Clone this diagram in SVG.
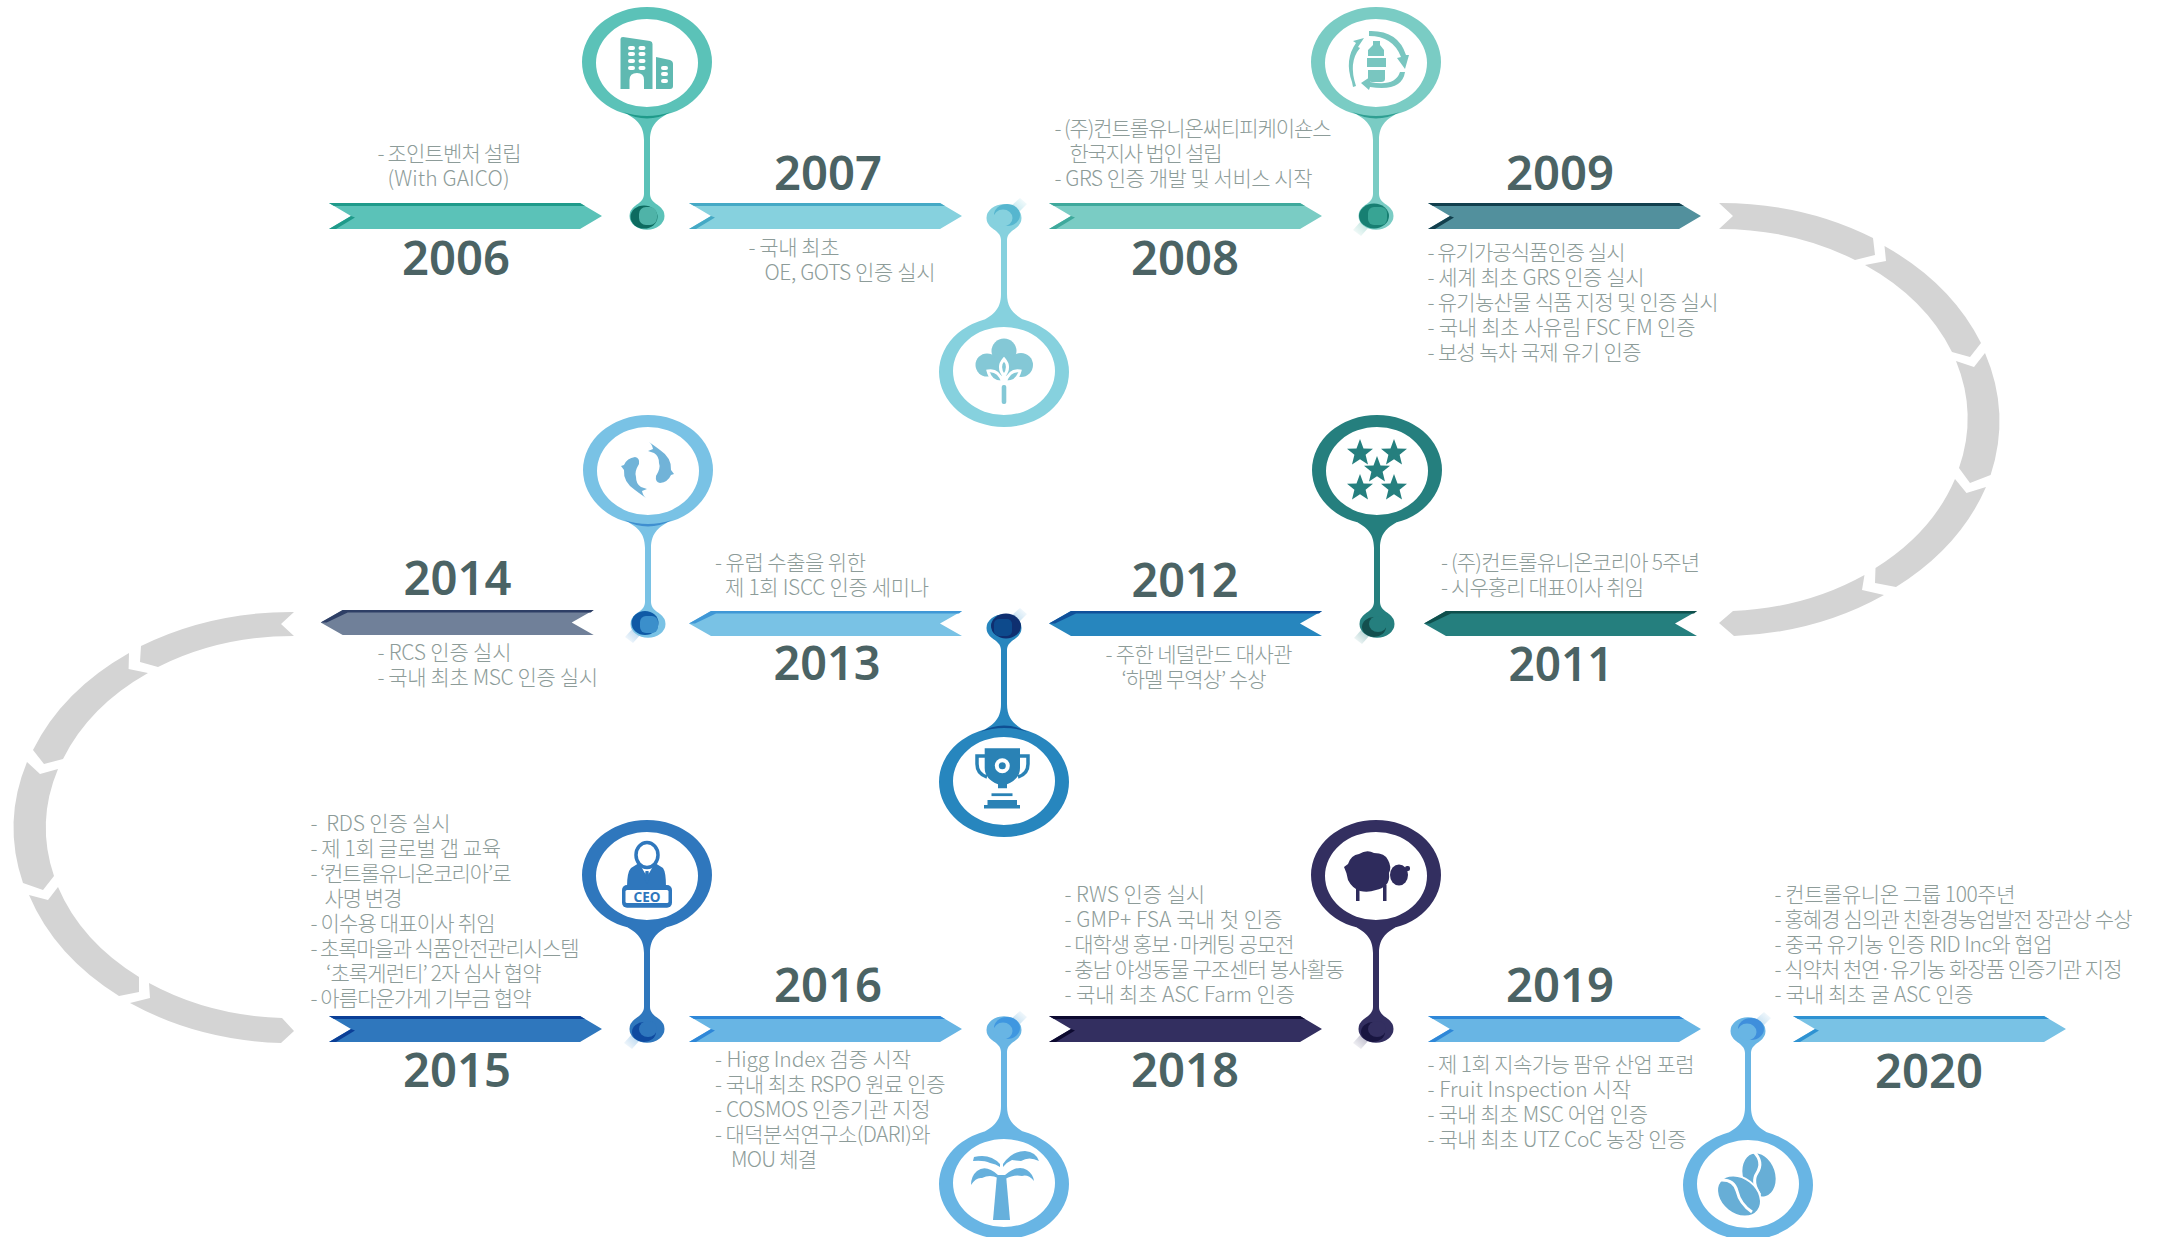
<svg xmlns="http://www.w3.org/2000/svg" xmlns:xlink="http://www.w3.org/1999/xlink" width="2157" height="1237" viewBox="0 0 2157 1237">
<style>
.t{font-family:"Noto Sans CJK KR","Noto Sans",sans-serif;font-size:21px;font-weight:300;fill:#8d9c99;white-space:pre;transform:translate(-.5px,-1px)}
#y2018 .t,#y2020 .t{transform:translate(-.5px,-2px)}
.y{font-family:"Noto Sans","Liberation Sans",sans-serif;font-size:46px;font-weight:600;fill:#4b6364;text-anchor:middle;transform:translateY(1px)}
.arc{fill:#d4d4d4}
.w{fill:#fff}
</style>
<defs>
<path id="pin" d="M-65,0A65,55 0 1 1 65,0A65,55 0 1 1 -65,0ZM-51,1A51,44 0 1 0 51,1A51,44 0 1 0 -51,1ZM24,50C12,56 3,62 3,78L3,132C3,138 8,141 12,144L-12,144C-8,141 -3,138 -3,132L-3,78C-3,62 -12,56 -24,50ZM-17.5,154A17.5,13.7 0 1 1 17.5,154A17.5,13.7 0 1 1 -17.5,154Z"/>
<path id="shade" d="M-24,50Q0,58 24,50Q0,63 -24,50Z"/>
<path id="ar" d="M0,0H251L273,13L251,26H0L22,13Z"/>
<path id="ard" d="M0,0H251L256,3H5ZM0,26L22,13L26,14.5L7,26Z"/>
<path id="al" d="M0,12.5L22,0H273L251,12.5L273,25H22Z"/>
<path id="ald" d="M0,12.5L22,0H273L270,2.5H27L6,12.5Z"/>
<polygon id="star" points="0,-14 3.5,-4.6 13,-4.2 5.6,1.8 8,11.5 0,6.2 -8,11.5 -5.6,1.8 -13,-4.2 -3.5,-4.6"/>
<linearGradient id="s1" x1="0" y1="1" x2="1" y2="0"><stop offset="0" stop-color="#86d1de" stop-opacity=".75"/><stop offset="1" stop-color="#86d1de" stop-opacity="0"/></linearGradient>
<linearGradient id="s2" x1="1" y1="0" x2="0" y2="1"><stop offset="0" stop-color="#5fbdaf" stop-opacity=".6"/><stop offset="1" stop-color="#5fbdaf" stop-opacity="0"/></linearGradient>
<linearGradient id="s3" x1="1" y1="0" x2="0" y2="1"><stop offset="0" stop-color="#257f7e" stop-opacity=".55"/><stop offset="1" stop-color="#257f7e" stop-opacity="0"/></linearGradient>
<linearGradient id="s4" x1="0" y1="1" x2="1" y2="0"><stop offset="0" stop-color="#79b8e0" stop-opacity=".7"/><stop offset="1" stop-color="#79b8e0" stop-opacity="0"/></linearGradient>
<linearGradient id="s5" x1="1" y1="0" x2="0" y2="1"><stop offset="0" stop-color="#68a8dc" stop-opacity=".7"/><stop offset="1" stop-color="#68a8dc" stop-opacity="0"/></linearGradient>
<linearGradient id="s6" x1="1" y1="0" x2="0" y2="1"><stop offset="0" stop-color="#332f60" stop-opacity=".5"/><stop offset="1" stop-color="#332f60" stop-opacity="0"/></linearGradient>
<path id="smU" d="M7,-11L14,-4L23,-13L16,-19Z" opacity=".8"/>
<path id="smD" d="M-7,11L-14,4L-23,14L-15,20Z" opacity=".8"/>
</defs>

<g id="connectors">
<path class="arc" d="M1719,203L1733,216L1719,229A248,191 0 0 1 1855,260L1875,255L1873,238A280,217 0 0 0 1719,203Z"/>
<path class="arc" d="M1884.5,246L1886,261L1865,265A248,191 0 0 1 1952,352L1970,357L1981,343A280,217 0 0 0 1884.5,246Z"/>
<path class="arc" d="M1985,353L1974,367L1956,361A248,191 0 0 1 1959,468L1970,483L1990.6,475A280,217 0 0 0 1985,353Z"/>
<path class="arc" d="M1986,487L1966.5,493L1955,479A248,191 0 0 1 1875.5,568L1875,583L1896,587A280,217 0 0 0 1986,487Z"/>
<path class="arc" d="M1864.5,575L1862,590L1884,595A280,217 0 0 1 1734,636L1719,623L1733,611A248,191 0 0 0 1864.5,575Z"/>
<path class="arc" d="M294,612L281,624L294,636A248,191 0 0 0 158,667L140,662L141,646A280,216 0 0 1 294,612Z"/>
<path class="arc" d="M129,653L128.6,669L148,673A248,191 0 0 0 63,759L44,764L33,750A280,216 0 0 1 129,653Z"/>
<path class="arc" d="M27,762L40,774L58,769A248,191 0 0 0 54,876L43,890L23,883A280,216 0 0 1 27,762Z"/>
<path class="arc" d="M29,895L48,900L58,887A248,191 0 0 0 139,977L139,992L119,996A280,216 0 0 1 29,895Z"/>
<path class="arc" d="M149,983L150,998L130,1003A280,216 0 0 0 281,1043L294,1031L282,1018A248,191 0 0 1 149,983Z"/>
</g>

<g id="y2006">
<use href="#ar" x="329" y="203" fill="#5bc2b8"/><use href="#ard" x="329" y="203" fill="#1f9a8a"/>
<text class="y" x="456" y="274" textLength="108" lengthAdjust="spacingAndGlyphs">2006</text>
<text class="t" x="378" y="162" textLength="144">- 조인트벤처 설립</text>
<text class="t" x="388" y="187" textLength="122">(With GAICO)</text>
<g transform="translate(647,62)"><use href="#pin" fill="#5bc2b8"/><use href="#shade" fill="#1f9a8a"/>
<g fill="#5fb9b1"><path d="M-26.5,-23Q-26.5,-25 -24,-25L3,-21Q5.5,-20.5 5.5,-18V27H-26.5Z"/><path d="M9,-5L23,-2Q26,-1 26,2V24Q26,27 23,27H9Z"/></g>
<g class="w"><rect x="-19" y="-16" width="7" height="4" rx="2"/><rect x="-8.5" y="-16" width="7" height="4" rx="2"/><rect x="-19" y="-10" width="7" height="4" rx="2"/><rect x="-8.5" y="-10" width="7" height="4" rx="2"/><rect x="-19" y="-3" width="7" height="4" rx="2"/><rect x="-8.5" y="-3" width="7" height="4" rx="2"/><rect x="-19" y="4" width="7" height="4" rx="2"/><rect x="-8.5" y="4" width="7" height="4" rx="2"/><path d="M-17.5,27V18Q-17.5,11 -10,11Q-3,11 -3,18V27Z"/><rect x="14" y="4" width="7" height="4" rx="2"/><rect x="14" y="10" width="7" height="4" rx="2"/><rect x="14" y="17" width="7" height="4" rx="2"/></g>
<g transform="translate(0,154)"><ellipse cx="-3" cy="1" rx="13.5" ry="11.5" fill="#0d6b60"/><rect x="-8" y="-9" width="18" height="18" rx="7" fill="#4fb3a8"/></g></g>
</g>

<g id="y2007">
<use href="#ar" x="689" y="203" fill="#86d1de"/><use href="#ard" x="689" y="203" fill="#45a9c5"/>
<text class="y" x="828" y="189" textLength="108" lengthAdjust="spacingAndGlyphs">2007</text>
<text class="t" x="749" y="256" textLength="91">- 국내 최초</text>
<text class="t" x="765" y="281" textLength="171">OE, GOTS 인증 실시</text>
<g transform="translate(1004,372)"><use href="#smU" y="-155" fill="url(#s1)"/><use href="#pin" transform="scale(1,-1)" fill="#86d1de"/>
<g transform="translate(0,-155)"><ellipse cx="3" cy="-2" rx="13" ry="11" fill="#56b6cf"/><ellipse cx="-1" cy="1" rx="9.5" ry="8.5" fill="#86d1de"/></g>
<g fill="#84c8d6"><circle cx="-17" cy="-7" r="11.5"/><circle cx="0" cy="-21" r="12.5"/><circle cx="17" cy="-7" r="12"/><circle cx="0" cy="-8" r="12"/><rect x="-2.3" y="13" width="4.6" height="19" rx="2"/></g>
<g fill="#84c8d6" stroke="#fff" stroke-width="3"><path d="M0,-13Q7,-5 0,4Q-7,-5 0,-13Z"/><path d="M-16,-1Q-6,-3 -1,10Q-13,11 -16,-1Z"/><path d="M16,-1Q6,-3 1,10Q13,11 16,-1Z"/></g></g>
</g>

<g id="y2008">
<use href="#ar" x="1049" y="203" fill="#7accc4"/><use href="#ard" x="1049" y="203" fill="#3fa99c"/>
<text class="y" x="1185" y="274" textLength="108" lengthAdjust="spacingAndGlyphs">2008</text>
<text class="t" x="1055" y="137" textLength="277">- (주)컨트롤유니온써티피케이숀스</text>
<text class="t" x="1070" y="162" textLength="153">한국지사 법인 설립</text>
<text class="t" x="1055" y="187" textLength="258">- GRS 인증 개발 및 서비스 시작</text>
<g transform="translate(1376,62)"><use href="#smD" y="154" fill="url(#s2)"/><use href="#pin" fill="#7accc4"/><use href="#shade" fill="#2f9f92"/>
<g transform="translate(0,154)"><ellipse cx="-2" cy="0" rx="15" ry="12.5" fill="#177f72"/><rect x="-8" y="-9" width="19" height="18" rx="6" fill="#38a494"/></g>
<g fill="#79c6c0"><path d="M-3,-21H4V-17L8,-12V-6H-8V-12L-3,-17ZM-9,-4H10V5H-9ZM-8,8H9V17Q9,20 5,20H-4Q-8,20 -8,17Z"/><path d="M-15,-24L-21,-15L-19,-14Q-31,0 -23,24L-26,25L-27,20Q-35,-2 -23,-19L-26,-21Z" transform="translate(3,0)"/><path d="M-7,-31Q22,-32 30,-7L33,-7L29,7L21,-4L25,-5Q17,-26 -7,-26Z"/><path d="M29,10Q26,30 -6,25L-7,28L-15,21L-6,15L-6,20Q19,25 24,10Z"/></g></g>
</g>

<g id="y2009">
<use href="#ar" x="1428" y="203" fill="#52909d"/><use href="#ard" x="1428" y="203" fill="#123f4d"/>
<text class="y" x="1560" y="189" textLength="108" lengthAdjust="spacingAndGlyphs">2009</text>
<text class="t" x="1428" y="261" textLength="198">- 유기가공식품인증 실시</text>
<text class="t" x="1428" y="286" textLength="217">- 세계 최초 GRS 인증 실시</text>
<text class="t" x="1428" y="311" textLength="291">- 유기농산물 식품 지정 및 인증 실시</text>
<text class="t" x="1428" y="336" textLength="268">- 국내 최초 사유림 FSC FM 인증</text>
<text class="t" x="1428" y="361" textLength="214">- 보성 녹차 국제 유기 인증</text>
</g>

<g id="y2011">
<use href="#al" x="1424" y="611" fill="#257f7e"/><use href="#ald" x="1424" y="611" fill="#0f4f4c"/>
<text class="y" x="1561" y="680" textLength="105" lengthAdjust="spacingAndGlyphs">2011</text>
<text class="t" x="1441.5" y="571" textLength="259">- (주)컨트롤유니온코리아 5주년</text>
<text class="t" x="1441.5" y="596" textLength="203">- 시우홍리 대표이사 취임</text>
<g transform="translate(1377,470)"><use href="#smD" y="154" fill="url(#s3)"/><use href="#pin" fill="#257f7e"/>
<g transform="translate(0,154)"><ellipse cx="-3" cy="3" rx="12" ry="10" fill="#134f4e"/><ellipse cx="1" cy="0" rx="9" ry="8" fill="#257f7e"/></g>
<g fill="#257f7e"><use href="#star" x="-17" y="-17"/><use href="#star" x="17" y="-17"/><use href="#star" x="0" y="0"/><use href="#star" x="-17" y="18"/><use href="#star" x="17" y="18"/></g></g>
</g>

<g id="y2012">
<use href="#al" x="1049" y="611" fill="#2786be"/><use href="#ald" x="1049" y="611" fill="#10509a"/>
<text class="y" x="1185" y="596" textLength="107" lengthAdjust="spacingAndGlyphs">2012</text>
<text class="t" x="1106" y="663" textLength="187">- 주한 네덜란드 대사관</text>
<text class="t" x="1122" y="688" textLength="145">‘하멜 무역상’ 수상</text>
</g>

<g id="y2013">
<use href="#al" x="689" y="611" fill="#79c2e5"/><use href="#ald" x="689" y="611" fill="#3f97d6"/>
<text class="y" x="827" y="679" textLength="107" lengthAdjust="spacingAndGlyphs">2013</text>
<text class="t" x="715.5" y="571" textLength="151">- 유럽 수출을 위한</text>
<text class="t" x="725.6" y="596" textLength="204">제 1회 ISCC 인증 세미나</text>
<g transform="translate(1004,782)"><use href="#smU" y="-155" fill="url(#s4)"/><use href="#pin" transform="scale(1,-1)" fill="#2786be"/><use href="#shade" transform="scale(1,-1)" fill="#0f4f93"/>
<g transform="translate(0,-155)"><ellipse cx="2" cy="-1" rx="15" ry="12.5" fill="#0f2f70"/><rect x="-10" y="-8" width="18" height="17" rx="5" fill="#0d4a8c"/></g>
<g fill="#2a82b5"><path d="M-19.3,-33.7H16V-14Q16,-3 3,2.3V6.3H-6V2.3Q-19.3,-3 -19.3,-14Z"/><rect x="-12.5" y="11.3" width="21" height="2.8"/><rect x="-16.5" y="18" width="29.5" height="5.5"/><rect x="-20" y="23" width="36" height="3.5"/></g>
<g fill="none" stroke="#2a82b5" stroke-width="3.5"><path d="M-19,-26H-27V-18Q-27,-8 -17,-5"/><path d="M16,-26H24V-18Q24,-8 14,-5"/></g>
<circle cx="-1.7" cy="-16.3" r="7.5" class="w"/><circle cx="-1.7" cy="-16.3" r="3.5" fill="#2a82b5"/></g>
</g>

<g id="y2014">
<use href="#al" x="320.7" y="610" fill="#708099"/><use href="#ald" x="320.7" y="610" fill="#2e3f66"/>
<text class="y" x="457.5" y="594" textLength="108" lengthAdjust="spacingAndGlyphs">2014</text>
<text class="t" x="378" y="661" textLength="134">- RCS 인증 실시</text>
<text class="t" x="378" y="686" textLength="220.5">- 국내 최초 MSC 인증 실시</text>
<g transform="translate(648,470)"><use href="#smD" y="153" fill="url(#s5)"/><use href="#pin" fill="#79c2e5"/><use href="#shade" fill="#3f8fd0"/>
<g transform="translate(0,153)"><ellipse cx="-3" cy="0" rx="13.5" ry="12" fill="#0f5aa6"/><rect x="-8" y="-7" width="18" height="17" rx="6" fill="#3b8fcb"/></g>
<g fill="#71b3d8"><path id="fish" d="M1,-28Q4,-26 5,-21L0,-19L6,-17Q11,-14 11,-7Q13,-2 8,6Q7,12 12,13Q20,12 23,5L26,4L23,0Q24,-12 12,-20L8,-23Z"/><use href="#fish" transform="rotate(180 -0.5 0)"/></g></g>
</g>

<g id="y2015">
<use href="#ar" x="329" y="1016" fill="#2f77bd"/><use href="#ard" x="329" y="1016" fill="#0b3f97"/>
<text class="y" x="457" y="1086" textLength="108" lengthAdjust="spacingAndGlyphs">2015</text>
<text class="t" x="311" y="832" textLength="140">-  RDS 인증 실시</text>
<text class="t" x="311" y="857" textLength="190.6">- 제 1회 글로벌 갭 교육</text>
<text class="t" x="311" y="882" textLength="201">- ‘컨트롤유니온코리아’로</text>
<text class="t" x="325" y="907" textLength="78">사명 변경</text>
<text class="t" x="311" y="932" textLength="185">- 이수용 대표이사 취임</text>
<text class="t" x="311" y="957" textLength="269">- 초록마을과 식품안전관리시스템</text>
<text class="t" x="326.6" y="982" textLength="215.4">‘초록게런티’ 2자 심사 협약</text>
<text class="t" x="311" y="1007" textLength="221">- 아름다운가게 기부금 협약</text>
<g transform="translate(647,875)"><use href="#smD" y="154" fill="url(#s5)"/><use href="#pin" fill="#2f77bd"/>
<g transform="translate(0,154)"><ellipse cx="-3" cy="3" rx="12" ry="10" fill="#0f4aa0"/><ellipse cx="1" cy="0" rx="9" ry="8" fill="#2f77bd"/></g>
<path d="M-8,-12L-1,0L0,-3L1,0L8,-12L16,-7Q19,-3 19,12H-20Q-20,-3 -16,-7Z" fill="#2f77bd"/>
<path d="M-1.5,-4H1.5L2.5,5L0,9L-2.5,5Z" fill="#2f77bd"/>
<ellipse cx="0" cy="-20" rx="11" ry="12.5" fill="#fff" stroke="#2f77bd" stroke-width="3.5"/>
<rect x="-25" y="10" width="50" height="22.7" rx="5" fill="#2f77bd"/><rect x="-21.5" y="15" width="43" height="13" rx="1.5" class="w"/>
<text x="0" y="27" text-anchor="middle" font-family="Noto Sans" font-weight="700" font-size="14" fill="#2f77bd" textLength="27" lengthAdjust="spacingAndGlyphs">CEO</text></g>
</g>

<g id="y2016">
<use href="#ar" x="689" y="1016" fill="#68b5e4"/><use href="#ard" x="689" y="1016" fill="#2e87d8"/>
<text class="y" x="828" y="1001" textLength="108" lengthAdjust="spacingAndGlyphs">2016</text>
<text class="t" x="715.5" y="1068" textLength="196">- Higg Index 검증 시작</text>
<text class="t" x="715.5" y="1093" textLength="230.5">- 국내 최초 RSPO 원료 인증</text>
<text class="t" x="715.5" y="1118" textLength="215.5">- COSMOS 인증기관 지정</text>
<text class="t" x="715.5" y="1143" textLength="215.5">- 대덕분석연구소(DARI)와</text>
<text class="t" x="731.6" y="1168" textLength="86">MOU 체결</text>
<g transform="translate(1004,1184)"><use href="#smU" y="-154" fill="url(#s4)"/><use href="#pin" transform="scale(1,-1)" fill="#68b5e4"/>
<g transform="translate(0,-154)"><ellipse cx="3" cy="-2" rx="13" ry="11" fill="#3f97e0"/><ellipse cx="-1" cy="1" rx="9.5" ry="8.5" fill="#68b5e4"/></g>
<g fill="#66b0dc"><path d="M-7,-9H2L6,36H-11Z"/><path d="M-1,-20Q8,-33 21,-33Q32,-32 35,-23Q25,-28 17,-23L8,-24Q3,-22 -1,-17Z"/><path d="M-4,-20Q-14,-31 -30,-27L-31,-23Q-20,-24 -14,-21Q-8,-20 -4,-17Z"/><path d="M-6,-9Q-18,-20 -27,-13Q-33,-8 -33,1Q-28,-7 -22,-6Q-14,-10 -6,-6Z"/><path d="M1,-9Q14,-20 23,-14Q29,-10 30,-3Q24,-10 18,-8Q10,-10 1,-5Z"/></g></g>
</g>

<g id="y2018">
<use href="#ar" x="1049" y="1016" fill="#332f60"/><use href="#ard" x="1049" y="1016" fill="#0d0a30"/>
<text class="y" x="1185" y="1086" textLength="108" lengthAdjust="spacingAndGlyphs">2018</text>
<text class="t" x="1065" y="904" textLength="140.6">- RWS 인증 실시</text>
<text class="t" x="1065" y="929" textLength="218">- GMP+ FSA 국내 첫 인증</text>
<text class="t" x="1065" y="954" textLength="230">- 대학생 홍보·마케팅 공모전</text>
<text class="t" x="1065" y="979" textLength="280">- 충남 야생동물 구조센터 봉사활동</text>
<text class="t" x="1065" y="1004" textLength="230.6">- 국내 최초 ASC Farm 인증</text>
<g transform="translate(1376,875)"><use href="#smD" y="154" fill="url(#s6)"/><use href="#pin" fill="#332f60"/>
<g transform="translate(0,154)"><ellipse cx="-3" cy="3" rx="12" ry="10" fill="#181540"/><ellipse cx="1" cy="0" rx="9" ry="8" fill="#332f60"/></g>
<g fill="#2e2b5c"><path d="M-32,-8L-28,-11Q-25,-20 -17,-21Q-9,-26 -2,-22Q9,-22 12,-15Q16,-8 13,-2Q14,6 10,10Q6,14 0,15Q-8,18 -16,16Q-24,13 -28,5Q-29,-2 -32,-8Z"/><ellipse cx="23" cy="0" rx="9" ry="10.5"/><rect x="29" y="-9" width="5" height="5" rx="2"/><rect x="-20" y="10" width="3.5" height="16"/><rect x="7" y="10" width="3.5" height="16"/></g></g>
</g>

<g id="y2019">
<use href="#ar" x="1428" y="1016" fill="#68b5e4"/><use href="#ard" x="1428" y="1016" fill="#2e87d8"/>
<text class="y" x="1560" y="1001" textLength="108" lengthAdjust="spacingAndGlyphs">2019</text>
<text class="t" x="1428" y="1073" textLength="267">- 제 1회 지속가능 팜유 산업 포럼</text>
<text class="t" x="1428" y="1098" textLength="203.6">- Fruit Inspection 시작</text>
<text class="t" x="1428" y="1123" textLength="220.6">- 국내 최초 MSC 어업 인증</text>
<text class="t" x="1428" y="1148" textLength="259">- 국내 최초 UTZ CoC 농장 인증</text>
<g transform="translate(1748,1185)"><use href="#pin" transform="scale(1,-1)" fill="#68b5e4"/>
<use href="#smU" y="-154" fill="url(#s4)"/>
<g transform="translate(0,-154)"><ellipse cx="3" cy="-2" rx="13" ry="11" fill="#3f8fdc"/><ellipse cx="-1" cy="1" rx="9.5" ry="8.5" fill="#68b5e4"/></g>
<ellipse cx="11" cy="-10" rx="22" ry="16" transform="rotate(72 11 -10)" fill="#67aed6"/><path d="M6,-33Q16,-23 9,-12Q3,-3 12,10" fill="none" stroke="#fff" stroke-width="3"/>
<ellipse cx="-9" cy="11" rx="24" ry="18" transform="rotate(38 -9 11)" fill="#67aed6" stroke="#fff" stroke-width="2"/><path d="M-28,-5Q-14,-6 -11,6Q-8,19 4,27" fill="none" stroke="#fff" stroke-width="3"/></g>
</g>

<g id="y2020">
<use href="#ar" x="1793" y="1016" fill="#79c2e5"/><use href="#ard" x="1793" y="1016" fill="#2e92d2"/>
<text class="y" x="1929" y="1087" textLength="108" lengthAdjust="spacingAndGlyphs">2020</text>
<text class="t" x="1775" y="904" textLength="241">- 컨트롤유니온 그룹 100주년</text>
<text class="t" x="1775" y="929" textLength="358">- 홍혜경 심의관 친환경농업발전 장관상 수상</text>
<text class="t" x="1775" y="954" textLength="278">- 중국 유기농 인증 RID Inc와 협업</text>
<text class="t" x="1775" y="979" textLength="348">- 식약처 천연·유기농 화장품 인증기관 지정</text>
<text class="t" x="1775" y="1004" textLength="199">- 국내 최초 굴 ASC 인증</text>
</g>
</svg>
